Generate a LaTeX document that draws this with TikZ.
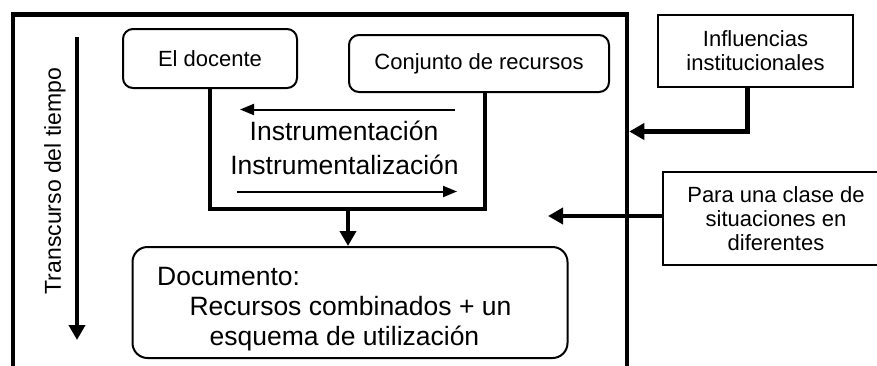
\documentclass[tikz,border=0pt]{standalone}
\usepackage{fontspec}
\setmainfont{Liberation Sans}
\usetikzlibrary{arrows.meta}
\tikzset{bigbox/.style = {draw, line width=4.5pt, rectangle, minimum width=614pt, minimum height=390pt, inner sep=0pt},
         rbox/.style = {draw, fill=white, line width=2pt, rectangle, rounded corners=10pt, inner sep=0pt, font=\fontsize{22}{24}\selectfont},
         sbox/.style = {draw, fill=white, line width=2pt, rectangle, align=center, inner sep=0pt, font=\fontsize{22}{24}\selectfont},
         big/.style = {inner sep=0pt, font=\fontsize{26.5}{30}\selectfont},
         bold/.style = {line width=4.5pt},
         boldarrow/.style = {line width=4.5pt, -{Triangle[length=15pt,width=16pt]}},
         thinarrow/.style = {line width=2pt, -{Triangle[length=14pt,width=11pt]}}}

\begin{document}
\begin{tikzpicture}[x=1pt,y=-1pt]
        \useasboundingbox(0,0)rectangle(877,365);
        \clip(0,0)rectangle(877,365);

        \node[bigbox](marco)at(320,209.5){};

        \node[rbox,minimum width=174pt,minimum height=59pt](docente)at(210,58.5){El docente};
        \node[rbox,minimum width=260pt,minimum height=57pt](recursos)at(479,63.5){Conjunto de recursos};
        \draw[bold](docente.south)|-(485,209)--([xshift=6pt]recursos.south);

        \coordinate(izq0)at(455,109.5);
        \coordinate(izq1)at(240,109.5);
        \draw[thinarrow](izq0)--(izq1);
        \node[big,anchor=base](instr)at(344,140){Instrumentación};
        \node[big,anchor=base](instl)at(344.5,174){Instrumentalización};
        \coordinate(der0)at(237,191.5);
        \coordinate(der1)at(457,191.5);
        \draw[thinarrow](der0)--(der1);

        \node[rbox,rounded corners=15pt,minimum width=435pt,minimum height=111pt](doc)at(350,302.5){};
        \draw[boldarrow](348,209)--(doc.north-|348,0);
        \node[big,anchor=base west](doct)at(157,285){Documento:};
        \node[big,anchor=base](docr)at(350.5,315){Recursos combinados + un};
        \node[big,anchor=base](doce)at(344.5,345){esquema de utilización};

        \coordinate(t0)at(77,37);
        \coordinate(t1)at(77,340);
        \draw[boldarrow](t0)--(t1);
        \node[inner sep=0pt,rotate=90,font=\fontsize{23}{26}\selectfont](tiempo)at(55,181){Transcurso del tiempo};

        \node[sbox,minimum width=195pt,minimum height=72pt](infl)at(755.5,51){Influencias\\institucionales};
        \draw[boldarrow]([xshift=-8pt]infl.south)|-(marco.east|-0,131.5);

        \node[sbox,minimum width=226pt,minimum height=93pt](para)at(776,218.5){Para una clase de\\situaciones en\\diferentes};
        \coordinate(paratip)at(548,216);
        \draw[boldarrow](para.west|-paratip)--(paratip);
    \end{tikzpicture}
\end{document}
